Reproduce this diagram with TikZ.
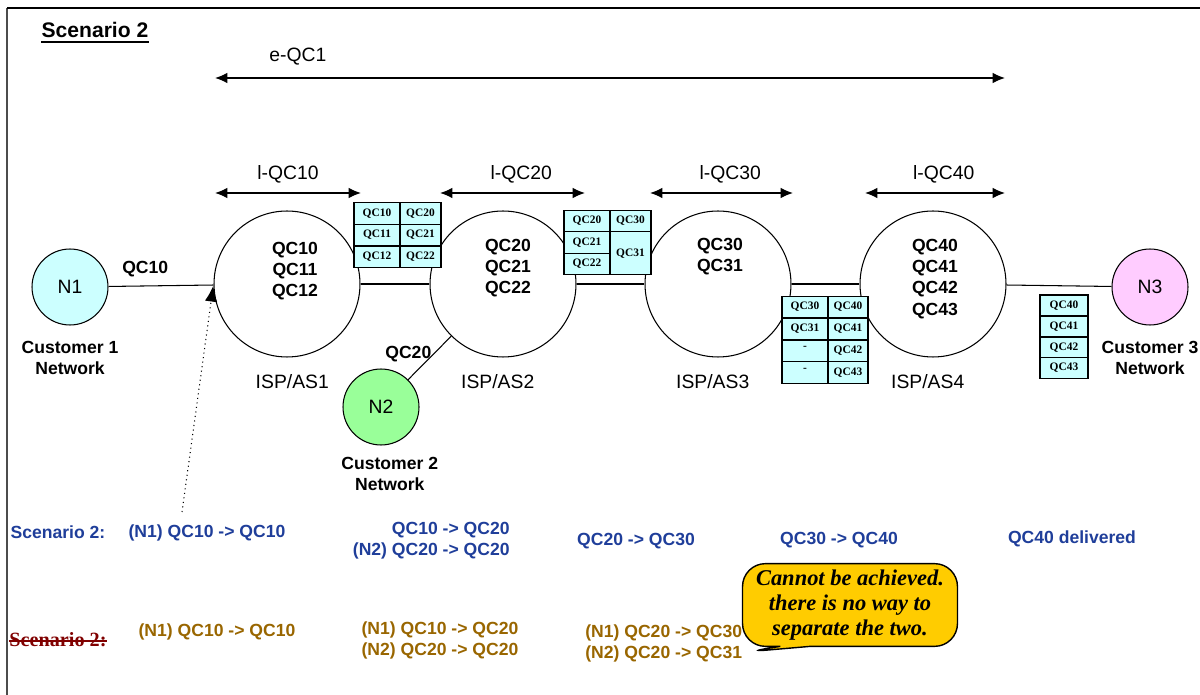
\documentclass[tikz,border=0pt]{standalone}
\usepackage{fontspec}
\setmainfont{Liberation Serif}
\setsansfont{Liberation Sans}
\usetikzlibrary{positioning,arrows.meta,shapes.callouts}
\definecolor{qccyan}{HTML}{CCFFFF}
\definecolor{custgreen}{HTML}{99FF99}
\definecolor{custpink}{HTML}{FFCCFF}
\definecolor{scnblue}{HTML}{1F3E9A}
\definecolor{scnbrown}{HTML}{996600}
\definecolor{scnred}{HTML}{800000}
\definecolor{calloutyellow}{HTML}{FFCC00}
\tikzset{
  isp/.style={draw,circle,minimum size=2.92cm,inner sep=0pt,line width=0.6pt},
  cust/.style={draw,circle,minimum size=1.52cm,inner sep=0pt,line width=0.6pt,
    font=\sffamily\fontsize{11}{13}\selectfont},
  plain/.style={font=\sffamily\fontsize{11}{13}\selectfont,inner sep=0pt},
  qcbold/.style={font=\sffamily\bfseries\fontsize{10}{12}\selectfont,align=center,inner sep=0pt},
  qcell/.style={draw,fill=qccyan,line width=0.7pt,inner sep=0pt,minimum height=0.43cm,
    font=\rmfamily\bfseries\fontsize{6.5}{7}\selectfont},
  blueline/.style={qcbold,text=scnblue},
  brownline/.style={qcbold,text=scnbrown}
}
\begin{document}
\begin{tikzpicture}[x=0.02cm,y=-0.02cm,>={Latex[length=7pt,width=6pt]}]
	\useasboundingbox (0,0) rectangle (1200,695);
	\draw[line width=1pt,black!70] (7,695) -- (7,8);
	\draw[line width=1.2pt] (7,8) -- (1200,8);
	\node[font=\sffamily\bfseries\fontsize{12}{14}\selectfont,inner sep=0pt] (title) at (95,30) {Scenario 2};
	\draw[line width=1.3pt] ([yshift=-2.5pt]title.base west) -- ([yshift=-2.5pt]title.base east);

	\node[cust,fill=qccyan] (N1) at (70,287) {N1};
	\node[cust,fill=custgreen] (N2) at (381,407) {N2};
	\node[cust,fill=custpink] (N3) at (1150,287) {N3};
	\node[isp] (AS1) at (287,284) {};
	\node[isp] (AS2) at (503,284) {};
	\node[isp] (AS3) at (718,284) {};
	\node[isp] (AS4) at (933,284) {};
	\node[qcbold] (AS1txt) at (295,271) {QC10\\QC11\\QC12};
	\node[qcbold] (AS2txt) at (508,268) {QC20\\QC21\\QC22};
	\node[qcbold] (AS3txt) at (720,257) {QC30\\QC31};
	\node[qcbold] (AS4txt) at (935,279) {QC40\\QC41\\QC42\\QC43};
	\node[plain,below=0.34cm of AS1,xshift=3pt] (AS1lbl) {ISP/AS1};
	\node[plain,below=0.34cm of AS2,xshift=-3pt] (AS2lbl) {ISP/AS2};
	\node[plain,below=0.34cm of AS3,xshift=-3pt] (AS3lbl) {ISP/AS3};
	\node[plain,below=0.34cm of AS4,xshift=-3pt] (AS4lbl) {ISP/AS4};
	\node[qcbold,below=0.3cm of N1] (N1lbl) {Customer 1\\Network};
	\node[qcbold,below=0.22cm of N2,xshift=5pt] (N2lbl) {Customer 2\\Network};
	\node[qcbold,below=0.3cm of N3] (N3lbl) {Customer 3\\Network};

	\draw[line width=0.6pt] (N1) -- node[qcbold,above=5pt,pos=0.35]{QC10} (AS1);
	\draw[line width=0.6pt] (N2) -- node[qcbold,pos=0.59,anchor=east,xshift=-1pt]{QC20} (AS2);
	\draw[line width=0.6pt] (AS1) -- (AS2);
	\draw[line width=0.6pt] (AS2) -- (AS3);
	\draw[line width=0.6pt] (AS3) -- (AS4);
	\draw[line width=0.6pt] (AS4) -- (N3);

	\coordinate (e1) at (215,78);
	\coordinate (e2) at (1005,78);
	\draw[<->,line width=0.7pt] (e1) -- node[plain,pos=0.105,above=7pt]{e-QC1} (e2);
	\coordinate (l1a) at (215,193);
	\coordinate (l1b) at (361,193);
	\coordinate (l2a) at (440,193);
	\coordinate (l2b) at (585,193);
	\coordinate (l3a) at (650,193);
	\coordinate (l3b) at (793,193);
	\coordinate (l4a) at (865,193);
	\coordinate (l4b) at (1005,193);
	\draw[<->,line width=0.7pt] (l1a) -- node[plain,above=5pt]{l-QC10} (l1b);
	\draw[<->,line width=0.7pt] (l2a) -- node[plain,above=5pt,xshift=5pt]{l-QC20} (l2b);
	\draw[<->,line width=0.7pt] (l3a) -- node[plain,above=5pt,xshift=5pt]{l-QC30} (l3b);
	\draw[<->,line width=0.7pt] (l4a) -- node[plain,above=5pt,xshift=5pt]{l-QC40} (l4b);

	\node[qcell,minimum width=0.92cm] (T1a1) at (377,213.5) {QC10};
	\node[qcell,minimum width=0.92cm] (T1a2) at (377,235) {QC11};
	\node[qcell,minimum width=0.92cm] (T1a3) at (377,257) {QC12};
	\node[qcell,minimum width=0.82cm] (T1b1) at (420.5,213.5) {QC20};
	\node[qcell,minimum width=0.82cm] (T1b2) at (420.5,235) {QC21};
	\node[qcell,minimum width=0.82cm] (T1b3) at (420.5,257) {QC22};

	\node[qcell,minimum width=0.92cm] (T2a1) at (587,221) {QC20};
	\node[qcell,minimum width=0.92cm] (T2a2) at (587,242.5) {QC21};
	\node[qcell,minimum width=0.92cm] (T2a3) at (587,264) {QC22};
	\node[qcell,minimum width=0.82cm] (T2b1) at (630.5,221) {QC30};
	\node[qcell,minimum width=0.82cm,minimum height=0.86cm] (T2b2) at (630.5,253.25) {QC31};

	\node[qcell,minimum width=0.92cm] (T3a1) at (805,307) {QC30};
	\node[qcell,minimum width=0.92cm] (T3a2) at (805,329) {QC31};
	\node[qcell,minimum width=0.92cm] (T3a3) at (805,351) {\raisebox{3pt}{-}};
	\node[qcell,minimum width=0.92cm] (T3a4) at (805,372.5) {\raisebox{3pt}{-}};
	\node[qcell,minimum width=0.8cm] (T3b1) at (848,307) {QC40};
	\node[qcell,minimum width=0.8cm] (T3b2) at (848,329) {QC41};
	\node[qcell,minimum width=0.8cm] (T3b3) at (848,351) {QC42};
	\node[qcell,minimum width=0.8cm] (T3b4) at (848,372.5) {QC43};

	\node[qcell,minimum width=0.96cm,minimum height=0.42cm] (T4a1) at (1064,305.5) {QC40};
	\node[qcell,minimum width=0.96cm,minimum height=0.42cm] (T4a2) at (1064,326.5) {QC41};
	\node[qcell,minimum width=0.96cm,minimum height=0.42cm] (T4a3) at (1064,347.5) {QC42};
	\node[qcell,minimum width=0.96cm,minimum height=0.42cm] (T4a4) at (1064,368) {QC43};

	\node[blueline] (S2) at (58,532) {Scenario 2:};
	\node[blueline] (S2a) at (207,533) {(N1) QC10 -> QC10};
	\node[blueline,align=right,anchor=east] (S2b) at (510,541) {QC10 -> QC20\\(N2) QC20 -> QC20};
	\node[blueline] (S2c) at (636,541) {QC20 -> QC30};
	\node[blueline] (S2d) at (839,540) {QC30 -> QC40};
	\node[blueline] (S2e) at (1072,539) {QC40 delivered};
	\coordinate (dotfoot) at (182,512);
	\draw[dotted,-{Latex[length=9pt,width=7pt]},line width=0.6pt,shorten >=1pt] (dotfoot) -- (AS1.west);

	\node[font=\rmfamily\bfseries\fontsize{11.5}{13}\selectfont,text=scnred,inner sep=0pt] (S2x) at (58,640) {Scenario 2:};
	\draw[scnred,line width=0.9pt] ([yshift=3.2pt]S2x.base west) -- ([yshift=3.2pt]S2x.base east);
	\node[brownline] (B1) at (217,632) {(N1) QC10 -> QC10};
	\node[brownline,align=left] (B2) at (440,640) {(N1) QC10 -> QC20\\(N2) QC20 -> QC20};
	\node[brownline,align=left,anchor=west] (B3) at (585,643) {(N1) QC20 -> QC30\\(N2) QC20 -> QC31};
	\coordinate (ctip) at (745,652);
	\node[rectangle callout,rounded corners=13pt,draw,line width=0.8pt,fill=calloutyellow,
	  minimum width=4.3cm,minimum height=1.58cm,align=center,
	  callout absolute pointer={(ctip)},callout pointer width=0.6cm,
	  font=\rmfamily\bfseries\itshape\fontsize{12.8}{14.4}\selectfont] (note) at (850,605)
	  {Cannot be achieved.\\there is no way to\\separate the two.};
\end{tikzpicture}
\end{document}
